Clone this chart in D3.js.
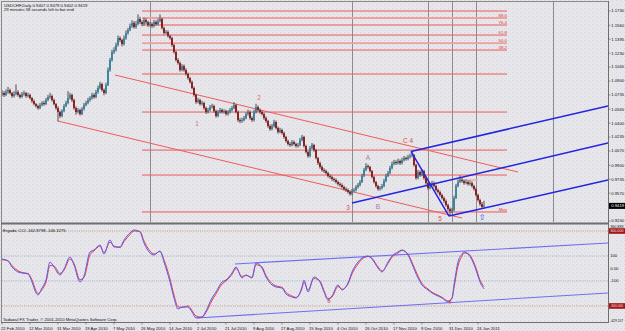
<!DOCTYPE html>
<html><head><meta charset="utf-8">
<script src="https://cdn.jsdelivr.net/npm/d3@7"></script>
<style>html,body{margin:0;padding:0;background:#e6e6ea;}svg{display:block;font-family:"Liberation Sans",Arial,sans-serif;}</style>
</head><body><svg id="c" width="625" height="331"></svg>
<script>
// ---- Daily USDCHF candles (bar index 0 = 22 Feb 2010) ----
const firstOpen = 1.0745;
const closes = [
1.0757,1.0734,1.0769,1.0793,1.0757,1.0722,1.0745,1.0769,1.0734,1.0710,1.0745,1.0757,1.0722,1.0734,1.0698,
1.0662,1.0627,1.0603,1.0579,1.0615,1.0639,1.0627,1.0674,1.0710,1.0722,
1.0674,1.0627,1.0579,1.0532,1.0485,1.0544,
1.0603,1.0639,1.0698,1.0734,1.0674,
1.0579,1.0532,1.0556,1.0508,1.0568,
1.0615,1.0639,1.0674,1.0698,1.0734,1.0710,1.0769,
1.0817,1.0864,1.0793,1.0757,1.0852,
1.1030,1.1149,1.1243,1.1267,1.1326,1.1409,1.1386,
1.1338,1.1409,1.1469,1.1504,1.1552,1.1587,1.1540,1.1575,1.1635,1.1599,
1.1575,1.1623,1.1599,1.1564,1.1575,1.1552,1.1599,1.1575,1.1611,1.1635,
1.1528,1.1469,1.1481,1.1433,1.1409,1.1326,1.1243,1.1149,1.1113,1.1030,
1.1077,1.1030,1.0983,1.0935,1.0888,1.0817,1.0734,1.0651,1.0674,1.0627,
1.0639,1.0579,1.0532,1.0556,1.0591,1.0603,1.0544,1.0485,1.0532,1.0556,
1.0532,1.0544,1.0508,1.0532,1.0556,1.0579,1.0615,1.0532,1.0437,1.0425,
1.0437,1.0461,1.0508,1.0532,1.0461,1.0437,1.0532,1.0591,1.0556,1.0532,
1.0508,1.0461,1.0425,1.0366,1.0330,1.0366,1.0413,1.0343,1.0295,1.0319,
1.0283,1.0236,1.0188,1.0153,1.0141,1.0176,1.0153,1.0129,1.0141,1.0200,
1.0236,1.0129,1.0058,1.0010,1.0105,1.0141,1.0081,0.9987,0.9927,0.9880,
0.9844,0.9832,0.9809,0.9773,0.9761,0.9738,0.9726,0.9702,0.9678,0.9666,
0.9643,0.9619,0.9607,0.9584,0.9560,0.9595,0.9607,0.9643,0.9666,0.9702,
0.9773,0.9844,0.9892,0.9880,0.9832,0.9761,0.9702,0.9655,0.9619,0.9631,
0.9655,0.9714,0.9773,0.9809,0.9868,0.9916,0.9939,0.9927,0.9951,0.9927,
0.9963,0.9987,0.9975,0.9998,1.0010,1.0022,0.9904,0.9749,0.9821,0.9785,
0.9832,0.9749,0.9690,0.9631,0.9666,0.9690,0.9655,0.9607,0.9584,0.9548,
0.9512,0.9477,0.9429,0.9382,0.9358,0.9370,0.9512,0.9655,0.9702,0.9726,
0.9714,0.9690,0.9702,0.9678,0.9690,0.9655,0.9619,0.9548,0.9489,0.9441,
0.9407,0.9419];
const highs = [
1.0790,1.0780,1.0800,1.0830,1.0810,1.0770,1.0780,1.0860,1.0790,1.0750,1.0770,1.0785,1.0770,1.0760,1.0750,
1.0710,1.0680,1.0640,1.0620,1.0640,1.0660,1.0665,1.0700,1.0735,1.0760,
1.0740,1.0690,1.0640,1.0600,1.0550,1.0565,
1.0625,1.0665,1.0780,1.0760,1.0750,
1.0690,1.0600,1.0580,1.0570,1.0590,
1.0640,1.0665,1.0700,1.0720,1.0760,1.0755,1.0795,
1.0845,1.0890,1.0880,1.0810,1.0880,
1.1060,1.1175,1.1270,1.1300,1.1355,1.1440,1.1430,
1.1400,1.1440,1.1500,1.1530,1.1580,1.1620,1.1610,1.1610,1.1690,1.1660,
1.1620,1.1650,1.1645,1.1615,1.1600,1.1595,1.1625,1.1620,1.1640,1.1690,
1.1650,1.1545,1.1505,1.1500,1.1450,1.1425,1.1340,1.1260,1.1170,1.1130,
1.1100,1.1095,1.1050,1.1000,1.0950,1.0905,1.0835,1.0750,1.0700,1.0690,
1.0665,1.0655,1.0595,1.0580,1.0615,1.0630,1.0620,1.0560,1.0555,1.0580,
1.0575,1.0565,1.0560,1.0555,1.0580,1.0605,1.0650,1.0630,1.0550,1.0460,
1.0465,1.0485,1.0530,1.0560,1.0550,1.0480,1.0560,1.0630,1.0610,1.0575,
1.0550,1.0525,1.0480,1.0440,1.0385,1.0390,1.0440,1.0430,1.0360,1.0345,
1.0335,1.0300,1.0250,1.0205,1.0175,1.0200,1.0195,1.0170,1.0165,1.0225,
1.0260,1.0250,1.0145,1.0075,1.0130,1.0165,1.0155,1.0095,1.0000,0.9945,
0.9900,0.9865,0.9850,0.9825,0.9795,0.9780,0.9755,0.9745,0.9720,0.9700,
0.9685,0.9660,0.9640,0.9625,0.9600,0.9620,0.9630,0.9665,0.9690,0.9725,
0.9800,0.9870,0.9925,0.9910,0.9895,0.9845,0.9775,0.9715,0.9670,0.9655,
0.9680,0.9740,0.9800,0.9835,0.9895,0.9945,0.9965,0.9960,0.9980,0.9970,
0.9990,1.0010,1.0005,1.0025,1.0040,1.0070,1.0035,0.9920,0.9845,0.9840,
0.9855,0.9845,0.9765,0.9705,0.9690,0.9715,0.9710,0.9670,0.9625,0.9600,
0.9565,0.9530,0.9495,0.9445,0.9400,0.9395,0.9540,0.9680,0.9730,0.9780,
0.9750,0.9730,0.9730,0.9720,0.9720,0.9710,0.9670,0.9635,0.9565,0.9505,
0.9465,0.9479];
const lows = [
1.0720,1.0710,1.0720,1.0750,1.0740,1.0700,1.0705,1.0730,1.0715,1.0690,1.0700,1.0725,1.0700,1.0705,1.0680,
1.0640,1.0610,1.0585,1.0560,1.0565,1.0600,1.0605,1.0615,1.0660,1.0690,
1.0655,1.0610,1.0560,1.0420,1.0460,1.0470,
1.0530,1.0590,1.0625,1.0680,1.0650,
1.0560,1.0500,1.0515,1.0490,1.0495,
1.0550,1.0600,1.0625,1.0655,1.0680,1.0690,1.0695,
1.0750,1.0800,1.0775,1.0730,1.0745,
1.0840,1.1010,1.1130,1.1220,1.1250,1.1310,1.1360,
1.1310,1.1320,1.1390,1.1450,1.1490,1.1530,1.1520,1.1520,1.1560,1.1575,
1.1550,1.1555,1.1575,1.1540,1.1545,1.1530,1.1535,1.1555,1.1560,1.1595,
1.1510,1.1450,1.1455,1.1415,1.1390,1.1305,1.1225,1.1130,1.1095,1.1010,
1.1015,1.1010,1.0965,1.0915,1.0870,1.0800,1.0715,1.0630,1.0635,1.0610,
1.0610,1.0560,1.0510,1.0515,1.0540,1.0575,1.0525,1.0465,1.0470,1.0515,
1.0515,1.0515,1.0490,1.0490,1.0515,1.0540,1.0565,1.0515,1.0415,1.0400,
1.0405,1.0420,1.0445,1.0490,1.0440,1.0415,1.0420,1.0515,1.0535,1.0510,
1.0490,1.0440,1.0405,1.0345,1.0310,1.0315,1.0350,1.0325,1.0275,1.0280,
1.0265,1.0215,1.0170,1.0135,1.0120,1.0125,1.0135,1.0110,1.0110,1.0125,
1.0185,1.0110,1.0040,0.9990,0.9995,1.0090,1.0060,0.9970,0.9905,0.9860,
0.9825,0.9810,0.9790,0.9755,0.9740,0.9715,0.9705,0.9685,0.9660,0.9645,
0.9625,0.9600,0.9585,0.9565,0.9540,0.9545,0.9580,0.9590,0.9625,0.9650,
0.9690,0.9760,0.9830,0.9860,0.9815,0.9745,0.9685,0.9635,0.9600,0.9600,
0.9615,0.9640,0.9700,0.9760,0.9795,0.9850,0.9900,0.9905,0.9910,0.9905,
0.9910,0.9945,0.9955,0.9960,0.9980,0.9995,0.9885,0.9730,0.9735,0.9765,
0.9770,0.9730,0.9670,0.9610,0.9615,0.9650,0.9635,0.9590,0.9565,0.9530,
0.9495,0.9455,0.9410,0.9360,0.9300,0.9330,0.9355,0.9500,0.9640,0.9690,
0.9695,0.9670,0.9675,0.9660,0.9660,0.9635,0.9600,0.9530,0.9470,0.9420,
0.9395,0.9402];

// ---- axis labels ----
const priceTicks = [1.1730,1.1560,1.1395,1.1230,1.1065,1.0900,1.0735,1.0565,1.0400,1.0235,1.0070,0.9900,0.9735,0.9570,0.9240];
const lastPrice = 0.9419;
const dateLabels = ["22 Feb 2010","12 Mar 2010","31 Mar 2010","19 Apr 2010","7 May 2010","26 May 2010","14 Jun 2010","2 Jul 2010","21 Jul 2010","9 Aug 2010","27 Aug 2010","15 Sep 2010","4 Oct 2010","26 Oct 2010","17 Nov 2010","9 Dec 2010","31 Dec 2010","24 Jan 2011"];
const dateLabelBars = [0,14,28,42,56,70,84,98,112,126,140,154,168,182,196,210,224,238];

// ---- objects on the chart ----
const fibPrices = [1.1730,1.1647,1.1564,1.1445,1.1350,1.1267,1.0983,1.0532,1.0081,0.9785,0.9347];
const fibLabels = ["","88.6","76.4","61.8","50.0","38.2","","","","","Max"];
const fibBold = [false,true,false,false,true,false,false,false,false,false,false];
const fibBars = [70, 252.5];
const redLines = [[28,1.0425,230,0.9275],[56.5,1.0971,258,0.9821]];
const blueLines = [[204.5,1.0065,223.5,0.9299],[204.5,1.0065,303,1.0603],[175,0.9453,303,1.0164],[223.5,0.9299,303,0.9726]];
const pinkSegment = [227.5,0.9726,238,0.9726];
const vLineBars = [74,175,213,225,237,275.5];
const waveLabels = [
 {t:"1",b:97.5,p:1.0366,c:"#e86c6c"},{t:"2",b:128.5,p:1.0674,c:"#e86c6c"},
 {t:"3",b:173,p:0.9370,c:"#e44a4a"},{t:"5",b:219,p:0.9240,c:"#e44a4a"},
 {t:"C 4",b:203,p:1.0165,c:"#e44a4a"},{t:"A",b:183,p:0.9969,c:"#b577a9"},
 {t:"B",b:188,p:0.9388,c:"#b577a9"},{t:"\u21E7",b:240,p:0.9250,c:"#3a5ae6"}];

// ---- Ergodic CCI ----
const cciBars = [0,3,5,8,10,13,15,17,18,20,22,24,26,29,31,34,36,39,41,44,46,49,51,54,56,59,61,64,66,69,71,74,76,79,81,84,86,88,90,93,95,97,100,102,105,107,110,112,115,117,120,122,125,127,130,132,135,137,140,142,145,147,150,151,153,156,159,161,163,165,168,170,173,175,178,180,183,185,188,190,193,195,198,200,203,205,208,210,213,215,218,220,223,225,226,228,230,231,233,235,237,239,241];
const cciMain = [76,60,12,-28,-36,-44,-108,-196,-212,-156,-92,52,12,-52,-4,92,28,-108,-60,132,148,188,116,228,172,172,228,284,308,292,204,124,108,140,52,-108,-236,-324,-308,-308,-348,-396,-388,-340,-236,-188,-108,-92,-36,12,-76,-52,-76,44,4,-68,-132,-148,-156,-204,-228,-236,-148,-92,-188,-68,-108,-188,-252,-220,-132,-172,-116,-28,52,84,100,76,4,-28,52,100,132,148,108,36,-76,-132,-172,-196,-220,-236,-268,-236,-132,52,116,132,116,68,-12,-108,-163];
const cciSignal = [70,62,22,-18,-32,-40,-92,-176,-200,-170,-110,24,20,-40,-14,76,40,-90,-72,110,140,180,128,210,180,168,214,272,300,296,220,140,116,136,70,-84,-212,-306,-312,-300,-336,-380,-390,-352,-256,-204,-124,-100,-48,0,-64,-56,-70,30,12,-56,-120,-140,-150,-192,-220,-232,-160,-110,-172,-80,-100,-176,-240,-228,-144,-166,-124,-44,36,74,96,82,14,-20,40,90,124,144,116,50,-60,-120,-164,-190,-214,-230,-260,-240,-156,20,100,124,120,80,4,-92,-146];
const cciTrend = [[116.5,36,303,204],[97.5,-396,303,-196]];
const cciLevelsOuter = [300,-300];
const cciLevelsInner = [100,-100];
const cciMarks = [[163.5,-262],[224,-268]];

// ================= drawing =================
const FS = 4.2;
const svg = d3.select('#c');
const defs = svg.append('defs');
const pat = defs.append('pattern').attr('id','dith').attr('width',4).attr('height',4).attr('patternUnits','userSpaceOnUse');
pat.append('rect').attr('width',4).attr('height',4).attr('fill','#e6e6eb');
pat.append('rect').attr('x',0).attr('y',0).attr('width',1).attr('height',1).attr('fill','#d5d5dc');
pat.append('rect').attr('x',2).attr('y',2).attr('width',1).attr('height',1).attr('fill','#dadae0');
defs.append('clipPath').attr('id','cm').append('rect').attr('x',2).attr('y',2).attr('width',606).attr('height',220);
defs.append('clipPath').attr('id','cs').append('rect').attr('x',2).attr('y',225).attr('width',606).attr('height',97);
svg.append('rect').attr('width',625).attr('height',331).attr('fill','url(#dith)');

const xS = d3.scaleLinear().domain([0,303]).range([2,608]);
const yS = d3.scaleLinear().domain([0.9240,1.1730]).range([221,11]);
const yC = d3.scaleLinear().domain([-429.157,360.883]).range([322.1,223.4]);

const main = svg.append('g').attr('clip-path','url(#cm)');
const sub = svg.append('g').attr('clip-path','url(#cs)');

// vertical object lines
main.selectAll('.vl').data(vLineBars).join('line')
 .attr('x1',d=>Math.round(xS(d))+0.5).attr('x2',d=>Math.round(xS(d))+0.5).attr('y1',2).attr('y2',222)
 .attr('stroke','#8c8c8c').attr('stroke-width',1);

// fibo levels
main.selectAll('.fib').data(fibPrices).join('line')
 .attr('x1',xS(fibBars[0])).attr('x2',xS(fibBars[1]))
 .attr('y1',d=>yS(d)).attr('y2',d=>yS(d))
 .attr('stroke',(d,i)=>fibBold[i]?'#f0a0a0':'#ee5a5a').attr('stroke-width',(d,i)=>fibBold[i]?1.8:1);
main.selectAll('.fibt').data(fibPrices).join('text')
 .attr('x',xS(fibBars[1])).attr('y',d=>yS(d)-1).attr('text-anchor','end')
 .attr('font-size',4.4).attr('fill','#e03a3a').text((d,i)=>fibLabels[i]);

// red channel lines
main.selectAll('.rl').data(redLines).join('line')
 .attr('x1',d=>xS(d[0])).attr('y1',d=>yS(d[1])).attr('x2',d=>xS(d[2])).attr('y2',d=>yS(d[3]))
 .attr('stroke','#ee5c5c').attr('stroke-width',1);
main.append('line').attr('x1',xS(pinkSegment[0])).attr('y1',yS(pinkSegment[1])).attr('x2',xS(pinkSegment[2])).attr('y2',yS(pinkSegment[3]))
 .attr('stroke','#f2b0b0').attr('stroke-width',1.5);

// candles
const bars = closes.map((c,i)=>({i,o:i?closes[i-1]:firstOpen,c,h:highs[i],l:lows[i]}));
const cg = main.append('g');
cg.selectAll('.wk').data(bars).join('line')
 .attr('x1',d=>xS(d.i)).attr('x2',d=>xS(d.i)).attr('y1',d=>yS(d.h)).attr('y2',d=>yS(d.l))
 .attr('stroke','#4e4e4e').attr('stroke-width',1);
cg.selectAll('.bd').data(bars).join('rect')
 .attr('x',d=>xS(d.i)-0.9).attr('width',1.8)
 .attr('y',d=>yS(Math.max(d.o,d.c))).attr('height',d=>Math.max(0.9,Math.abs(yS(d.o)-yS(d.c))))
 .attr('fill',d=>d.c>=d.o?'#2f86a6':'#8e1414');

// blue pitchfork lines
main.selectAll('.bl').data(blueLines).join('line')
 .attr('x1',d=>xS(d[0])).attr('y1',d=>yS(d[1])).attr('x2',d=>xS(d[2])).attr('y2',d=>yS(d[3]))
 .attr('stroke','#2323e0').attr('stroke-width',1.5);

// wave labels
svg.selectAll('.wl').data(waveLabels).join('text')
 .attr('x',d=>xS(d.b)).attr('y',d=>yS(d.p)).attr('text-anchor','middle')
 .attr('font-size',d=>d.t==='\u21E7'?8:6.5).attr('font-family',d=>d.t==='\u21E7'?'DejaVu Sans':null)
 .attr('fill',d=>d.c).text(d=>d.t);

// header
svg.append('text').attr('x',4).attr('y',6.8).attr('font-size',FS).attr('fill','#111').text('USDCHF,Daily  0.9407 0.9479 0.9402 0.9419');
svg.append('text').attr('x',4).attr('y',11.3).attr('font-size',FS).attr('fill','#111').text('29 minutes 58 seconds left to bar end');

// ---- sub panel ----
sub.selectAll('.lo').data(cciLevelsOuter).join('line')
 .attr('x1',2).attr('x2',608).attr('y1',d=>yC(d)).attr('y2',d=>yC(d))
 .attr('stroke','#bb8866').attr('stroke-width',0.8).attr('stroke-dasharray','1,1.2');
sub.selectAll('.li').data(cciLevelsInner).join('line')
 .attr('x1',2).attr('x2',608).attr('y1',d=>yC(d)).attr('y2',d=>yC(d))
 .attr('stroke','#8ea8c2').attr('stroke-width',0.8).attr('stroke-dasharray','1,1.2');
sub.selectAll('.ct').data(cciTrend).join('line')
 .attr('x1',d=>xS(d[0])).attr('y1',d=>yC(d[1])).attr('x2',d=>xS(d[2])).attr('y2',d=>yC(d[3]))
 .attr('stroke','#6f6ff2').attr('stroke-width',1.1);
const ln = arr => d3.line().x((d,i)=>xS(cciBars[i])).y(d=>yC(d)).curve(d3.curveMonotoneX)(arr);
sub.append('path').attr('d',ln(cciSignal)).attr('fill','none').attr('stroke','#f0403c').attr('stroke-width',1);
sub.append('path').attr('d',ln(cciMain)).attr('fill','none').attr('stroke','#5858f4').attr('stroke-width',1);
sub.selectAll('.mk').data(cciMarks).join('circle')
 .attr('cx',d=>xS(d[0])).attr('cy',d=>yC(d[1])).attr('r',1.2).attr('fill','none').attr('stroke','#e04040').attr('stroke-width',0.7);

svg.append('text').attr('x',3).attr('y',232.3).attr('font-size',FS).attr('fill','#111').text('Ergodic CCI -162.8798 -146.3275');
svg.append('text').attr('x',3).attr('y',320.8).attr('font-size',FS).attr('fill','#111').text('Tadawul FX Trader, \u00A9 2001-2010 MetaQuotes Software Corp.');

// ---- frame ----
svg.append('line').attr('x1',1.5).attr('x2',1.5).attr('y1',1).attr('y2',323).attr('stroke','#8a8a8a');
svg.append('line').attr('x1',1).attr('x2',608).attr('y1',1.5).attr('y2',1.5).attr('stroke','#8a8a8a');
svg.append('line').attr('x1',1).attr('x2',609).attr('y1',223.5).attr('y2',223.5).attr('stroke','#6e6e6e').attr('stroke-width',2);
svg.append('line').attr('x1',1).attr('x2',609).attr('y1',322.5).attr('y2',322.5).attr('stroke','#6e6e6e');
svg.append('line').attr('x1',608.5).attr('x2',608.5).attr('y1',1).attr('y2',323).attr('stroke','#6e6e6e');

// right price axis
svg.selectAll('.pt').data(priceTicks).join('line')
 .attr('x1',608.5).attr('x2',610.5).attr('y1',d=>yS(d)).attr('y2',d=>yS(d)).attr('stroke','#555').attr('stroke-width',0.6);
svg.selectAll('.ptl').data(priceTicks).join('text')
 .attr('x',611.3).attr('y',d=>yS(d)+1.4).attr('font-size',FS).attr('fill','#111').text(d=>d.toFixed(4));
svg.append('rect').attr('x',609).attr('y',yS(lastPrice)-3).attr('width',16).attr('height',6).attr('fill','#000');
svg.append('text').attr('x',611.3).attr('y',yS(lastPrice)+1.4).attr('font-size',FS).attr('fill','#fff').text(lastPrice.toFixed(4));

// CCI axis
const cciAxis = [[360.883,'360.883',false,2.8],[300,'300.000',true,0],[100,'100',false,0],[0,'0.00',false,0],[-100,'-100',false,0],[-300,'-300.000',true,0],[-429.157,'-429.157',false,-1.1]];
cciAxis.forEach(([v,t,box,off])=>{
  const y = yC(v)+off;
  if(box) svg.append('rect').attr('x',609).attr('y',y-2.8).attr('width',16).attr('height',5.6).attr('fill','#a01515');
  const fs = t.length>7 ? 3.3 : (t.length>6 ? 3.7 : FS);
  svg.append('text').attr('x',610.2).attr('y',y+1.3).attr('font-size',fs).attr('fill',box?'#ffe0e0':'#111').text(t);
});

// date axis
svg.selectAll('.dl').data(dateLabels).join('text')
 .attr('x',(d,i)=>xS(dateLabelBars[i])-1).attr('y',329.5).attr('font-size',FS).attr('fill','#111').text(d=>d);
svg.selectAll('.dt').data(dateLabelBars).join('line')
 .attr('x1',d=>xS(d)).attr('x2',d=>xS(d)).attr('y1',322.5).attr('y2',324.5).attr('stroke','#555').attr('stroke-width',0.6);
</script></body></html>
